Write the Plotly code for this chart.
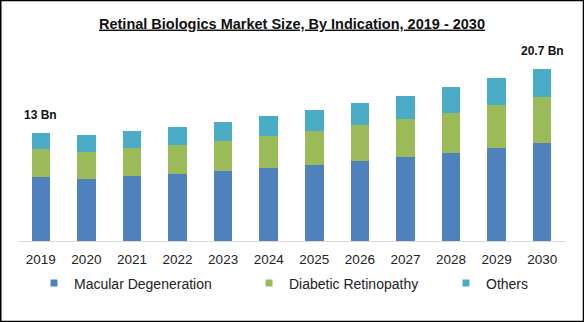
import plotly.graph_objects as go

# Market size by indication (USD Bn)
years = ["2019", "2020", "2021", "2022", "2023", "2024",
         "2025", "2026", "2027", "2028", "2029", "2030"]
macular = [7.7, 7.45, 7.8, 8.05, 8.45, 8.8, 9.15, 9.65, 10.15, 10.6, 11.2, 11.8]
diabetic = [3.4, 3.25, 3.4, 3.5, 3.6, 3.85, 4.1, 4.3, 4.55, 4.8, 5.2, 5.55]
others = [1.9, 2.05, 2.05, 2.2, 2.3, 2.4, 2.5, 2.65, 2.75, 3.15, 3.25, 3.35]

series_names = ["Macular Degeneration", "Diabetic Retinopathy", "Others"]
series_colors = ["#4f81bd", "#9bbb59", "#4bacc6"]
series_values = [macular, diabetic, others]

callouts = {"2019": "13 Bn", "2030": "20.7 Bn"}

W, H = 584, 322
ML, MR, MT, MB = 18, 19, 49, 81
PW, PH = W - ML - MR, H - MT - MB


def px_x(px):
    return (px - ML) / PW


def px_y(py):
    return (H - MB - py) / PH


fig = go.Figure()

for name, color, vals in zip(series_names, series_colors, series_values):
    fig.add_trace(go.Bar(x=years, y=vals, name=name, marker_color=color,
                         marker_line_width=0, showlegend=False))

# Legend entries, each placed in its own legend box
legend_ids = ["legend", "legend2", "legend3"]
legend_left_px = [34, 249, 446]
for name, color, lid in zip(series_names, series_colors, legend_ids):
    fig.add_trace(go.Scatter(x=[years[0]], y=[None], mode="markers", name=name,
                             marker=dict(symbol="square", size=7, color=color),
                             legend=lid, showlegend=True, hoverinfo="skip"))

# Total labels above the first and last bars (category serial positions)
totals = [round(a + b + c, 2) for a, b, c in zip(macular, diabetic, others)]
for yr, label in callouts.items():
    i = years.index(yr)
    fig.add_annotation(x=i, y=totals[i], text=f"<b>{label}</b>", showarrow=False,
                       xref="x", yref="y", yanchor="bottom", yshift=9,
                       font=dict(family="Liberation Sans", size=12, color="#111"))

legend_common = dict(orientation="h", yanchor="middle", xanchor="left",
                     y=px_y(283.5), bgcolor="rgba(0,0,0,0)",
                     font=dict(family="Liberation Sans", size=14, color="#222"),
                     borderwidth=0)
legends = {lid: dict(legend_common, x=px_x(px)) for lid, px in zip(legend_ids, legend_left_px)}

fig.update_layout(
    width=W, height=H,
    margin=dict(l=ML, r=MR, t=MT, b=MB, pad=0),
    paper_bgcolor="white", plot_bgcolor="white",
    barmode="stack", bargap=0.594,
    title=dict(text="<b><u>Retinal Biologics Market Size, By Indication, 2019 - 2030</u></b>",
               x=292 / W, xanchor="center", y=1 - 23.5 / H, yanchor="middle",
               font=dict(family="Liberation Sans", size=14.5, color="#111")),
    xaxis=dict(type="category", categoryorder="array", categoryarray=years,
               range=[-0.5, len(years) - 0.5],
               showline=True, linecolor="#d9d9d9", linewidth=1,
               ticks="", showgrid=False, zeroline=False, ticklabelstandoff=6,
               tickfont=dict(family="Liberation Sans", size=13.5, color="#222")),
    yaxis=dict(visible=False, range=[0, PH * 0.1204], showgrid=False, zeroline=False),
    **legends,
)

# Outer frame around the whole figure
fig.add_shape(type="rect", xref="paper", yref="paper",
              x0=px_x(0.75), x1=px_x(583.5), y0=px_y(321.5), y1=px_y(0.5),
              line=dict(color="black", width=1.5), layer="above")

fig.write_html("out.html")
